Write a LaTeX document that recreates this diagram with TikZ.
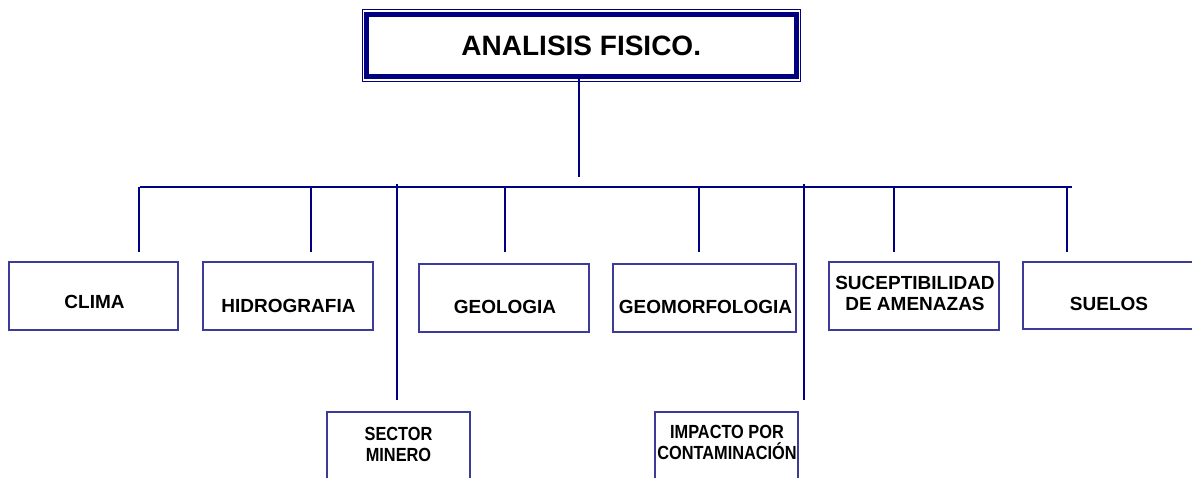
\documentclass[tikz,border=0pt]{standalone}
\usepackage{fontspec}
\setmainfont{Liberation Sans}
\begin{document}
\begin{tikzpicture}[x=1pt,y=-1pt,
  conn/.style={draw=navyline,line width=1.3pt},
  box/.style={draw=boxline,line width=1.4pt,rectangle,inner sep=0pt},
  txt/.style={font=\fontsize{19}{21}\selectfont\bfseries,inner sep=0pt,align=center,text=black},
  txtn/.style={font=\fontsize{19}{21}\selectfont\bfseries,inner sep=0pt,align=center,text=black,xscale=0.86,transform shape},
  titlebox/.style={draw=navyline,line width=5pt,rectangle,inner sep=0pt,outer sep=0pt,font=\fontsize{28}{32}\selectfont\bfseries}]
\definecolor{navyline}{RGB}{0,0,128}
\definecolor{boxline}{RGB}{60,60,150}
\useasboundingbox (0,0) rectangle (1192,478);
\clip (0,0) rectangle (1192,478);
% title
\node[titlebox,minimum width=429.5pt,minimum height=62.5pt] (title) at (581.25,45.75) {ANALISIS FISICO.};
\draw[navyline,line width=0.9pt] ([shift={(-4.5pt,5.5pt)}]title.north west) rectangle ([shift={(4pt,-4pt)}]title.south east);
\coordinate (stemend) at (579,177);
\draw[conn] (title.south -| stemend) -- (stemend);
% bus
\coordinate (busL) at (140,187);
\coordinate (busR) at (1072,187);
\draw[conn] (busL) -- (busR);
% boxes
\node[box,minimum width=169pt,minimum height=68pt] (clima) at (93.5,296) {};
\node[box,minimum width=170pt,minimum height=68pt] (hidro) at (288,296) {};
\node[box,minimum width=170pt,minimum height=68pt] (geol) at (504,298) {};
\node[box,minimum width=183pt,minimum height=68pt] (geom) at (704.5,298) {};
\node[box,minimum width=170pt,minimum height=68pt] (susc) at (914,296) {};
\node[box,minimum width=177pt,minimum height=67pt] (suelos) at (1111.5,295.5) {};
\node[box,minimum width=143pt,minimum height=88pt] (sector) at (398.5,456) {};
\node[box,minimum width=143pt,minimum height=88pt] (impacto) at (726.5,456) {};
% texts
\node[txt] (climat) at (94.5,301.5) {CLIMA};
\node[txt] (hidrot) at (288.5,305.5) {HIDROGRAFIA};
\node[txt] (geolt) at (505,307) {GEOLOGIA};
\node[txt] (geomt) at (705.5,307) {GEOMORFOLOGIA};
\node[txt] (susct) at (915,293) {SUCEPTIBILIDAD\\DE AMENAZAS};
\node[txt] (suelost) at (1109,303.5) {SUELOS};
\node[txtn] (sectort) at (398.5,444) {SECTOR\\MINERO};
\node[txtn] (impactot) at (727,442) {IMPACTO POR\\CONTAMINACIÓN};
% drops
\coordinate (dclima) at (139,187);
\coordinate (dhidro) at (311,187);
\coordinate (dgeol) at (505,187);
\coordinate (dgeom) at (699,187);
\coordinate (dsusc) at (894,187);
\coordinate (dsuelos) at (1067,187);
\coordinate (dsector) at (397,184);
\coordinate (dimpacto) at (804,184);
\coordinate (eclima) at (139,252);
\coordinate (ehidro) at (311,252);
\coordinate (egeol) at (505,252);
\coordinate (egeom) at (699,252);
\coordinate (esusc) at (894,252);
\coordinate (esuelos) at (1067,252);
\coordinate (esector) at (397,400);
\coordinate (eimpacto) at (804,400);
\foreach \n in {clima,hidro,geol,geom,susc,suelos,sector,impacto}
  \draw[conn] (d\n) -- (e\n);
\end{tikzpicture}
\end{document}
